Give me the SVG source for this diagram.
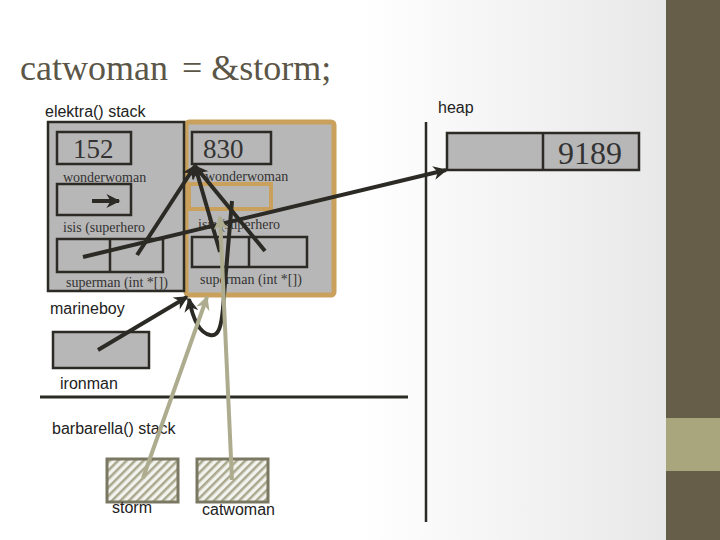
<svg xmlns="http://www.w3.org/2000/svg" width="720" height="540" viewBox="0 0 720 540">
<defs>
<linearGradient id="bg" x1="0" y1="0" x2="1" y2="0">
<stop offset="0" stop-color="#ffffff"/>
<stop offset="0.5" stop-color="#ffffff"/>
<stop offset="1" stop-color="#e4e4e4"/>
</linearGradient>
<pattern id="hatch" width="6" height="6" patternUnits="userSpaceOnUse" patternTransform="rotate(45)">
<rect width="6" height="6" fill="#f2f2ee"/>
<rect width="2.5" height="6" fill="#aaa88c"/>
</pattern>
<marker id="ah" viewBox="0 0 10 10" refX="9" refY="5" markerWidth="16" markerHeight="14" markerUnits="userSpaceOnUse" orient="auto">
<path d="M0,0 L10,5 L0,10 L3,5 Z" fill="#2b2a24"/>
</marker>
<marker id="ahk" viewBox="0 0 10 10" refX="9" refY="5" markerWidth="16" markerHeight="14" markerUnits="userSpaceOnUse" orient="auto">
<path d="M0,0 L10,5 L0,10 L3,5 Z" fill="#aeac8e"/>
</marker>
</defs>
<style>
.box{fill:#b8b7b7;stroke:#2b2a24;stroke-width:2.5}
.ser{font-family:"Liberation Serif","Times New Roman",serif;fill:#333}
.san{font-family:"Liberation Sans",Arial,sans-serif;fill:#222;font-size:16px}
.lbl{font-size:14px}
.blk{fill:none;stroke:#2b2a24;stroke-width:4;marker-end:url(#ah)}
.khk{fill:none;stroke:#aeac8e;stroke-width:4;marker-end:url(#ahk)}
.var{fill:url(#hatch);stroke:#7a7862;stroke-width:3}
</style>
<rect width="720" height="540" fill="url(#bg)"/>
<rect x="666" y="0" width="54" height="540" fill="#665e48"/>
<rect x="666" y="418" width="54" height="53" fill="#a9a67e"/>

<text x="20" y="80" font-family="Liberation Serif,serif" font-size="36" fill="#5b5647">catwoman<tspan x="182">= &amp;storm;</tspan></text>
<text class="san" x="45" y="117">elektra() stack</text>
<text class="san" x="438" y="113">heap</text>
<text class="san" x="50" y="314">marineboy</text>
<text class="san" x="60" y="389">ironman</text>
<text class="san" x="52" y="434">barbarella() stack</text>

<line x1="40" y1="397" x2="408" y2="397" stroke="#2b2a24" stroke-width="3"/>
<line x1="426" y1="122" x2="426" y2="522" stroke="#2b2a24" stroke-width="2.5"/>

<g id="orange-frame">
<rect x="186" y="122" width="148" height="173" rx="3" fill="#b8b7b7" stroke="#c9a15c" stroke-width="5"/>
</g>
<g id="elektra-frame">
<rect x="48" y="122" width="136" height="169" fill="#b8b7b7" stroke="#2b2a24" stroke-width="2.5"/>
</g>

<g id="n152">
<rect class="box" x="57" y="132" width="74" height="32"/>
<text class="ser" x="73" y="158" font-size="27">152</text>
<text class="ser lbl" x="63" y="182">wonderwoman</text>
</g>
<g id="isis-left">
<rect class="box" x="57" y="184" width="74" height="31"/>
<text class="ser lbl" x="63" y="232">isis (superhero</text>
</g>
<g id="superman-left">
<rect class="box" x="57" y="239" width="106" height="33"/>
<line x1="110" y1="239" x2="110" y2="272" stroke="#2b2a24" stroke-width="2.5"/>
<text class="ser lbl" x="66" y="287">superman (int *[])</text>
</g>

<g id="n830">
<rect class="box" x="192" y="132" width="79" height="32"/>
<text class="ser" x="203" y="158" font-size="27">830</text>
<text class="ser lbl" x="205" y="181">wonderwoman</text>
</g>
<g id="isis-right">
<rect x="189" y="184" width="82" height="25" fill="#b8b7b7" stroke="#c9a15c" stroke-width="4"/>
<text class="ser lbl" x="198" y="229">isis (superhero</text>
</g>
<g id="superman-right">
<rect class="box" x="192" y="237" width="115" height="30"/>
<line x1="249" y1="237" x2="249" y2="267" stroke="#2b2a24" stroke-width="2.5"/>
<text class="ser lbl" x="200" y="284">superman (int *[])</text>
</g>

<g id="ironman">
<rect class="box" x="53" y="332" width="96" height="36"/>
</g>

<g id="heap">
<rect class="box" x="447" y="133" width="192" height="37"/>
<line x1="543" y1="133" x2="543" y2="170" stroke="#2b2a24" stroke-width="2.5"/>
<text class="ser" x="558" y="164" font-size="32">9189</text>
</g>

<g id="storm">
<rect class="var" x="107" y="459" width="71" height="43"/>
<text class="san" x="112" y="513" font-size="15">storm</text>
</g>
<g id="catwoman">
<rect class="var" x="197" y="459" width="71" height="43"/>
<text class="san" x="202" y="515" font-size="15">catwoman</text>
</g>

<g id="connectors">
<line class="blk" x1="92" y1="201" x2="119" y2="201"/>
<line class="blk" x1="83" y1="257" x2="446" y2="170"/>
<line class="blk" x1="137" y1="255" x2="195" y2="166"/>
<line class="blk" x1="220" y1="252" x2="195" y2="166"/>
<line class="blk" x1="265" y1="251" x2="195" y2="166"/>
<line class="blk" x1="98" y1="350" x2="187" y2="297"/>
<path class="blk" d="M232,201 L224,295 C222,330 218,337 210,335 C200,333 193,320 189,299"/>
<line class="khk" x1="143" y1="478" x2="207" y2="297"/>
<line class="khk" x1="232" y1="480" x2="220" y2="217"/>
</g>
</svg>
